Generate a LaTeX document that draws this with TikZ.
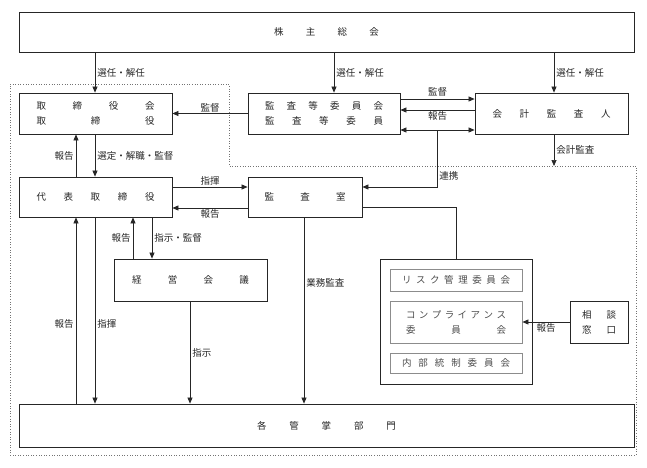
\documentclass[tikz,border=0pt]{standalone}
\usepackage{fontspec}
\setmainfont{Noto Sans CJK JP}
\usetikzlibrary{arrows.meta}
\begin{document}
\begin{tikzpicture}[x=1pt,y=-1pt,
 box/.style={draw=black!85, line width=0.8pt, inner sep=0pt, align=center, text=black!85, font=\fontsize{9.5}{15}\selectfont},
 inbox/.style={box, draw=black!45, text=black!70},
 tip/.tip={Triangle[length=6pt,width=5pt]},
 arr/.style={draw=black!85, line width=0.7pt, -tip},
 darr/.style={draw=black!85, line width=0.7pt, tip-tip},
 ln/.style={draw=black!85, line width=0.7pt},
 lbl/.style={font=\fontsize{9.5}{11}\selectfont, inner sep=2pt, text=black!85},
 frame/.style={draw=black!55, dotted, line width=0.6pt}]
\useasboundingbox (0,0) rectangle (647,467);

% dotted frame
\draw[frame] (10,84) -- (229,84) -- (229,166) -- (636,166) -- (636,455) -- (10,455) -- cycle;

% boxes
\node[box, minimum width=615pt, minimum height=40pt] (kabu) at (326.5,32) {\makebox[105pt]{株\hfill 主\hfill 総\hfill 会}};
\node[box, minimum width=153pt, minimum height=41pt] (tori) at (95.5,113.5) {\makebox[118pt]{取\hfill 締\hfill 役\hfill 会}\\\makebox[118pt]{取\hfill 締\hfill 役}};
\node[box, minimum width=152pt, minimum height=41pt] (kansa) at (324,113.5) {\makebox[118pt]{監\hfill 査\hfill 等\hfill 委\hfill 員\hfill 会}\\\makebox[118pt]{監\hfill 査\hfill 等\hfill 委\hfill 員}};
\node[box, minimum width=153pt, minimum height=41pt] (kaikei) at (551.5,113.5) {\makebox[118pt]{会\hfill 計\hfill 監\hfill 査\hfill 人}};
\node[box, minimum width=153pt, minimum height=40pt] (daihyo) at (95.5,197) {\makebox[118pt]{代\hfill 表\hfill 取\hfill 締\hfill 役}};
\node[box, minimum width=114pt, minimum height=40pt] (shitsu) at (305,197) {\makebox[81pt]{監\hfill 査\hfill 室}};
\node[box, minimum width=153pt, minimum height=42pt] (keiei) at (190.5,280) {\makebox[117pt]{経\hfill 営\hfill 会\hfill 議}};
\node[box, minimum width=152pt, minimum height=125pt] (comm) at (456,321.5) {};
\node[inbox, minimum width=132pt, minimum height=22pt] (risk) at (456,280) {\makebox[108pt]{リ\hfill ス\hfill ク\hfill 管\hfill 理\hfill 委\hfill 員\hfill 会}};
\node[inbox, minimum width=132pt, minimum height=42pt] (comp) at (456,322) {\makebox[100pt]{コ\hfill ン\hfill プ\hfill ラ\hfill イ\hfill ア\hfill ン\hfill ス}\\\makebox[100pt]{委\hfill 員\hfill 会}};
\node[inbox, minimum width=132pt, minimum height=20pt] (naibu) at (456,363) {\makebox[108pt]{内\hfill 部\hfill 統\hfill 制\hfill 委\hfill 員\hfill 会}};
\node[box, minimum width=58pt, minimum height=42pt] (soudan) at (599,322) {\makebox[34pt]{相\hfill 談}\\\makebox[34pt]{窓\hfill 口}};
\node[box, minimum width=615pt, minimum height=43pt] (kakubu) at (326.5,425.5) {\makebox[139pt]{各\hfill 管\hfill 掌\hfill 部\hfill 門}};

% helper coordinates
\coordinate (c76) at (76,0);
\coordinate (c95) at (95,0);
\coordinate (c133) at (133,0);
\coordinate (c152) at (152,0);
\coordinate (c190) at (190,0);
\coordinate (c304) at (304,0);
\coordinate (c334) at (334,0);
\coordinate (c437) at (437,0);
\coordinate (c554) at (554,0);
\coordinate (r99) at (0,99);
\coordinate (r110) at (0,110);
\coordinate (r130) at (0,130);
\coordinate (r187) at (0,187);
\coordinate (r207) at (0,207);
\coordinate (r208) at (0,208);
\coordinate (r322) at (0,322);
\coordinate (auditpt) at (554,166);

% shareholders
\draw[arr] (kabu.south -| c95) -- node[lbl, right] {選任・解任} (tori.north -| c95);
\draw[arr] (kabu.south -| c334) -- node[lbl, right] {選任・解任} (kansa.north -| c334);
\draw[arr] (kabu.south -| c554) -- node[lbl, right] {選任・解任} (kaikei.north -| c554);

% audit committee
\draw[arr] (kansa.west) -- node[lbl, above, inner sep=1pt] {監督} (tori.east);
\draw[arr] (kansa.east |- r99) -- node[lbl, above, inner sep=2pt] {監督} (kaikei.west |- r99);
\draw[arr] (kaikei.west |- r110) -- node[lbl, below, inner sep=1pt] {報告} (kansa.east |- r110);
\draw[darr] (kansa.east |- r130) -- (kaikei.west |- r130);
\draw[arr] (c437 |- r130) -- (c437 |- r187) node[lbl, right, pos=0.8] {連携} -- (shitsu.east |- r187);
\draw[arr] (kaikei.south -| c554) -- node[lbl, right] {会計監査} (auditpt);

% board / representative
\draw[arr] (daihyo.north -| c76) -- node[lbl, left] {報告} (tori.south -| c76);
\draw[arr] (tori.south -| c95) -- node[lbl, right] {選定・解職・監督} (daihyo.north -| c95);
\draw[arr] (daihyo.east |- r187) -- node[lbl, above, inner sep=1pt] {指揮} (shitsu.west |- r187);
\draw[arr] (shitsu.west |- r208) -- node[lbl, below, inner sep=1pt] {報告} (daihyo.east |- r208);

% management meeting
\draw[arr] (keiei.north -| c133) -- node[lbl, left] {報告} (daihyo.south -| c133);
\draw[arr] (daihyo.south -| c152) -- node[lbl, right] {指示・監督} (keiei.north -| c152);

% departments
\draw[arr] (kakubu.north -| c76) -- node[lbl, left, pos=0.43] {報告} (daihyo.south -| c76);
\draw[arr] (daihyo.south -| c95) -- node[lbl, right, pos=0.57] {指揮} (kakubu.north -| c95);
\draw[arr] (keiei.south -| c190) -- node[lbl, right, pos=0.5] {指示} (kakubu.north -| c190);
\draw[arr] (shitsu.south -| c304) -- node[lbl, right, pos=0.35] {業務監査} (kakubu.north -| c304);

% audit office to committees
\draw[ln] (shitsu.east |- r207) -| (comm.north);

% consultation desk
\draw[arr] (soudan.west |- r322) -- node[lbl, below, inner sep=1pt] {報告} (comp.east |- r322);
\end{tikzpicture}
\end{document}
